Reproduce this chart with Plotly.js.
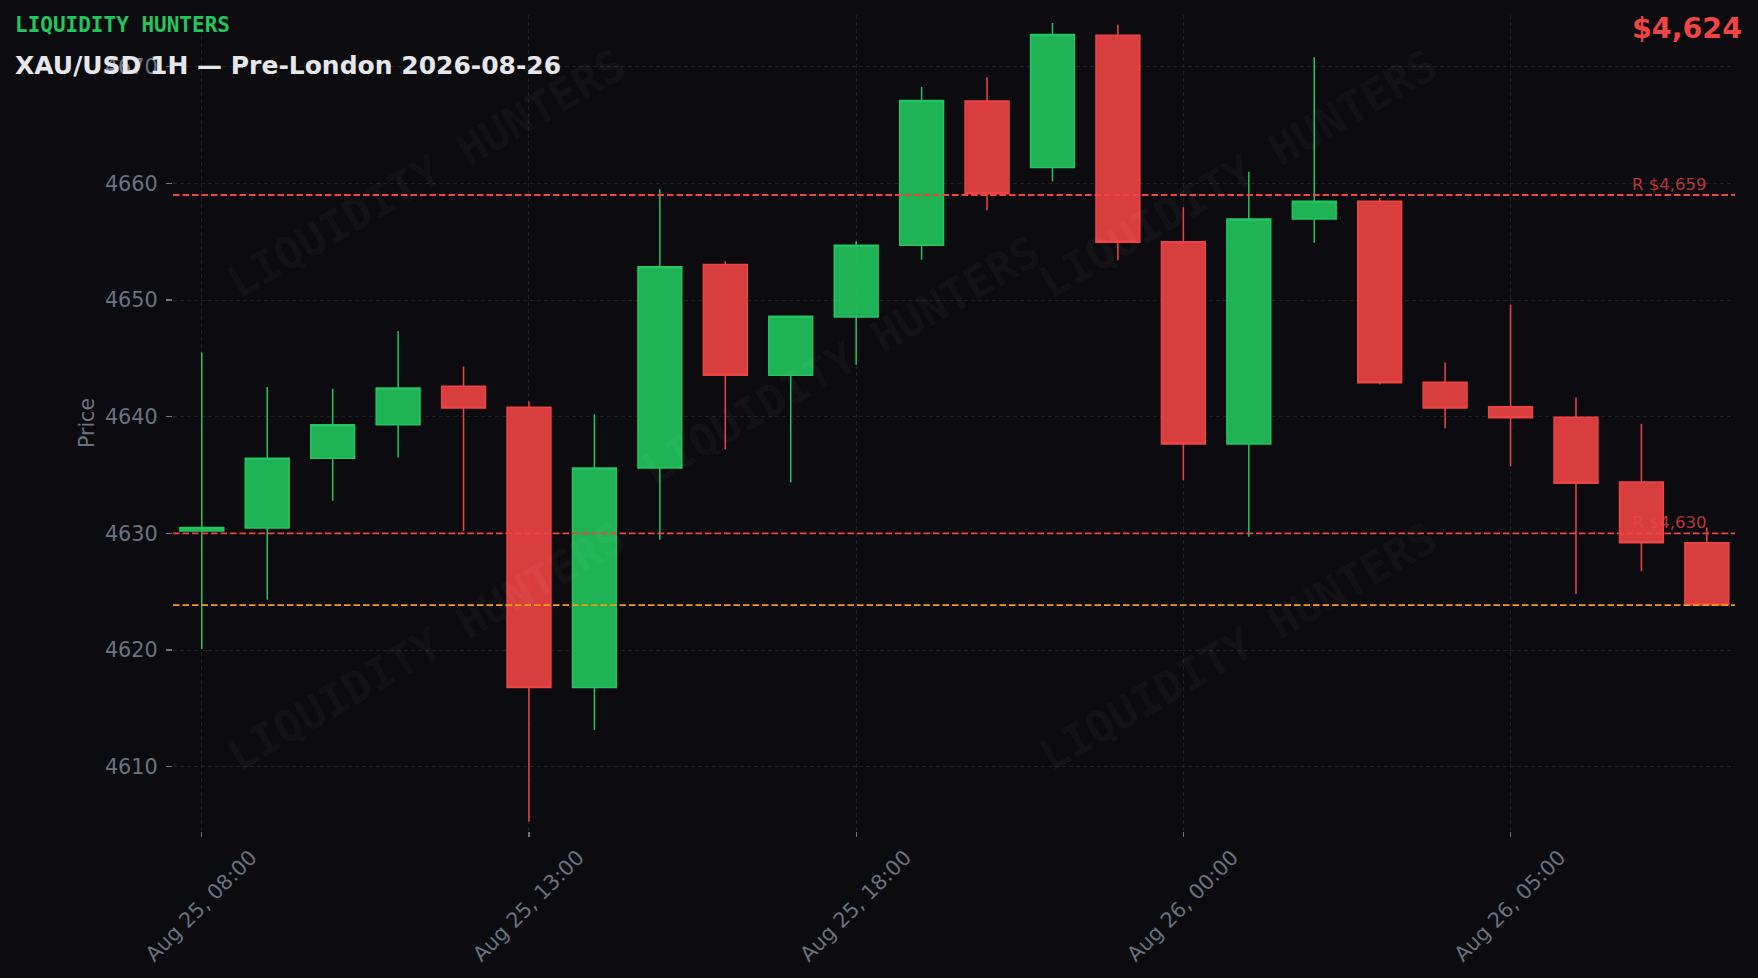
<!DOCTYPE html>
<html>
<head>
<meta charset="utf-8">
<script src="https://cdn.plot.ly/plotly-3.0.1.min.js"></script>
<style>
  html, body { margin: 0; padding: 0; background: #0b0b10; }
  #chart { width: 1758px; height: 978px; }
</style>
</head>
<body>
<div id="chart"></div>
<script>
// ---- data ----
const times = [
  "Aug 25, 08:00", "Aug 25, 09:00", "Aug 25, 10:00", "Aug 25, 11:00", "Aug 25, 12:00",
  "Aug 25, 13:00", "Aug 25, 14:00", "Aug 25, 15:00", "Aug 25, 16:00", "Aug 25, 17:00",
  "Aug 25, 18:00", "Aug 25, 19:00", "Aug 25, 20:00", "Aug 25, 22:00", "Aug 25, 23:00",
  "Aug 26, 00:00", "Aug 26, 01:00", "Aug 26, 02:00", "Aug 26, 03:00", "Aug 26, 04:00",
  "Aug 26, 05:00", "Aug 26, 06:00", "Aug 26, 07:00", "Aug 26, 08:00"
];
const openP  = [4630.2, 4630.45, 4636.43, 4639.3, 4642.6, 4640.8, 4616.8, 4635.6, 4653.05, 4643.55,
                4648.55, 4654.7, 4667.05, 4661.35, 4672.7, 4655.0, 4637.67, 4656.95, 4658.47, 4642.95,
                4640.85, 4639.95, 4634.4, 4629.2];
const highP  = [4645.5, 4642.55, 4642.4, 4647.35, 4644.3, 4641.3, 4640.2, 4659.5, 4653.3, 4648.6,
                4655.05, 4668.25, 4669.1, 4673.75, 4673.6, 4657.95, 4661.0, 4670.8, 4658.75, 4644.65,
                4649.6, 4641.65, 4639.4, 4630.5];
const lowP   = [4620.1, 4624.3, 4632.8, 4636.5, 4630.2, 4605.3, 4613.15, 4629.45, 4637.2, 4634.35,
                4644.45, 4653.45, 4657.7, 4660.15, 4653.4, 4634.55, 4629.7, 4654.9, 4642.75, 4639.0,
                4635.75, 4624.8, 4626.75, 4623.8];
const closeP = [4630.5, 4636.43, 4639.3, 4642.45, 4640.75, 4616.8, 4635.6, 4652.85, 4643.55, 4648.6,
                4654.7, 4667.1, 4659.1, 4672.75, 4654.95, 4637.67, 4656.95, 4658.47, 4642.9, 4640.75,
                4639.9, 4634.3, 4629.2, 4623.85];
const resistanceLevels = [4659, 4630];
const currentPrice = 4623.85;
const tickIdx = [0, 5, 10, 15, 20];
const titleText = "XAU/USD 1H — Pre-London 2026-08-26";
const brandText = "LIQUIDITY HUNTERS";

// ---- styling ----
const BG = "#0b0b10";
const GREEN = "#22c55e";
const RED = "#ef4444";
const ORANGE = "#f59e0b";
const TICK = "#6b7280";
const GRID = "#1f2129";

const fmt = v => "$" + Math.round(v).toLocaleString("en-US");

const trace = {
  type: "candlestick",
  x: times, open: openP, high: highP, low: lowP, close: closeP,
  increasing: { line: { color: GREEN, width: 1.5 }, fillcolor: "rgba(34,197,94,0.9)" },
  decreasing: { line: { color: RED, width: 1.5 }, fillcolor: "rgba(239,68,68,0.9)" },
  whiskerwidth: 0,
  hoverinfo: "skip",
  showlegend: false
};

const shapes = resistanceLevels.map(lv => ({
  type: "line", xref: "paper", x0: 0, x1: 1, yref: "y", y0: lv, y1: lv,
  line: { color: RED, width: 1.8, dash: "6.5px,3px" }, layer: "above"
}));
shapes.push({
  type: "line", xref: "paper", x0: 0, x1: 1, yref: "y", y0: currentPrice, y1: currentPrice,
  line: { color: ORANGE, width: 1.8, dash: "6.5px,3px" }, layer: "above"
});

const wmPos = [[0.162, 0.806], [0.4277, 0.576], [0.6818, 0.806], [0.162, 0.2255], [0.6818, 0.2255]];
const annotations = wmPos.map(p => ({
  xref: "paper", yref: "paper", x: p[0], y: p[1], xanchor: "center", yanchor: "middle",
  text: "<b>" + brandText + "</b>", showarrow: false, textangle: -30,
  font: { family: "DejaVu Sans Mono", size: 44, color: "rgba(255,255,255,0.045)" }
}));
annotations.push({
  xref: "paper", yref: "paper", x: -0.1024, y: 0.9877, xanchor: "left", yanchor: "middle",
  text: "<b>" + brandText + "</b>", showarrow: false,
  font: { family: "DejaVu Sans Mono", size: 21, color: GREEN }
});
annotations.push({
  xref: "paper", yref: "paper", x: 1.0055, y: 0.984, xanchor: "right", yanchor: "middle",
  text: "<b>" + fmt(currentPrice) + "</b>", showarrow: false,
  font: { family: "DejaVu Sans", size: 28.5, color: RED }
});
resistanceLevels.forEach(lv => annotations.push({
  xref: "x", yref: "y", x: times[times.length - 1], y: lv, xanchor: "right", yanchor: "bottom",
  text: "R " + fmt(lv), showarrow: false, borderpad: 0,
  font: { family: "DejaVu Sans", size: 16.5, color: "rgba(239,68,68,0.75)" }
}));

const layout = {
  width: 1758, height: 978,
  paper_bgcolor: BG, plot_bgcolor: BG,
  font: { family: "DejaVu Sans", color: TICK },
  margin: { l: 173, r: 23, t: 15, b: 147, pad: 0 },
  boxgap: 0.33, boxgroupgap: 0,
  showlegend: false,
  title: {
    text: "<b>" + titleText + "</b>",
    font: { family: "DejaVu Sans", size: 25, color: "#e5e7eb" },
    xref: "container", x: 15 / 1758, xanchor: "left",
    yref: "container", y: 1 - 65 / 978, yanchor: "middle"
  },
  xaxis: {
    type: "category",
    range: [-0.44, 23.43],
    rangeslider: { visible: false },
    tickmode: "array",
    tickvals: tickIdx.map(i => times[i]),
    ticktext: tickIdx.map(i => times[i]),
    tickangle: -45,
    tickfont: { family: "DejaVu Sans", size: 20.8, color: TICK },
    ticks: "outside", ticklen: 5, tickwidth: 1.2, tickcolor: TICK,
    ticklabelshift: 49,
    showgrid: true, gridcolor: GRID, gridwidth: 1, griddash: "4px,3px",
    zeroline: false, showline: false, fixedrange: true
  },
  yaxis: {
    range: [4604.49, 4674.43],
    tick0: 4610, dtick: 10,
    tickfont: { family: "DejaVu Sans", size: 20.8, color: TICK },
    ticks: "outside", ticklen: 6, tickwidth: 1.2, tickcolor: TICK,
    ticklabelstandoff: 4,
    showgrid: true, gridcolor: GRID, gridwidth: 1, griddash: "4px,3px",
    zeroline: false, showline: false, fixedrange: true,
    title: { text: "Price", font: { family: "DejaVu Sans", size: 20.5, color: TICK }, standoff: 4 }
  },
  shapes: shapes,
  annotations: annotations
};

Plotly.newPlot("chart", [trace], layout, { displayModeBar: false, staticPlot: true });
</script>
</body>
</html>
